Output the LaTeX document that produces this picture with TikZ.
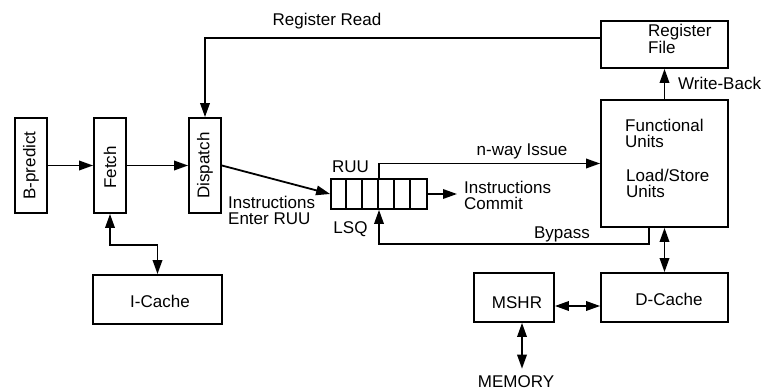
\documentclass[tikz,border=0pt]{standalone}
\usepackage{fontspec}
\setmainfont{Liberation Sans}
\usetikzlibrary{arrows.meta}
\begin{document}
\begin{tikzpicture}[x=1pt,y=-1pt,
  font=\fontsize{17}{16}\selectfont,
  box/.style={draw, line width=1.8pt, inner sep=0pt},
  txt/.style={inner sep=0pt, text height=12.2pt, text depth=0pt},
  mtxt/.style={inner sep=0pt, align=left, anchor=north west},
  vtxt/.style={inner sep=0pt, rotate=90},
  conn/.style={line width=1.8pt},
  tip/.tip={Triangle[length=14pt,width=9.5pt]},
  arr/.style={conn, -tip},
  dbl/.style={conn, tip-tip}
]
\useasboundingbox (0,0) rectangle (770,390);

% boxes
\node[box, minimum width=32pt, minimum height=95pt] (bp) at (31,165.5) {};
\node[box, minimum width=32pt, minimum height=95pt] (fetch) at (110,165.5) {};
\node[box, minimum width=32pt, minimum height=95pt] (disp) at (205,165.5) {};
\node[box, minimum width=129pt, minimum height=49pt] (icache) at (157.5,299.5) {};
\node[box, minimum width=127pt, minimum height=47pt] (rf) at (664.5,44.5) {};
\node[box, minimum width=127pt, minimum height=127pt] (fu) at (664.5,163.5) {};
\node[box, minimum width=127pt, minimum height=49pt] (dc) at (664.5,297.5) {};
\node[box, minimum width=80pt, minimum height=49pt] (mshr) at (514,297.5) {};
\node[box, minimum width=96pt, minimum height=30pt] (ruu) at (379,194) {};
\foreach \i in {1,...,5}
  \draw[line width=1.8pt] ([xshift=16*\i pt]ruu.north west) -- ([xshift=16*\i pt]ruu.south west);

% texts in boxes
\node[vtxt] (bptxt) at (bp.center) {B-predict};
\node[vtxt] (fetchtxt) at ([yshift=-2pt]fetch.center) {Fetch};
\node[vtxt] (disptxt) at (disp.center) {Dispatch};
\node[txt] (ictxt) at (160,301.5) {I-Cache};
\node[mtxt, font=\fontsize{17}{16.5}\selectfont] (rftxt) at (648,24) {Register\\File};
\node[mtxt] (futxt) at (625,119) {Functional\\Units};
\node[mtxt] (lstxt) at (626,169) {Load/Store\\Units};
\node[txt] (dctxt) at (669,299.5) {D-Cache};
\node[txt] (mshrtxt) at (517,302.5) {MSHR};

% free labels
\node[txt] (rrlbl) at (327,19.5) {Register Read};
\node[txt, anchor=west] (wblbl) at (678,83) {Write-Back};
\node[txt] (nwlbl) at (522,149) {n-way Issue};
\node[txt] (bylbl) at (562,232) {Bypass};
\node[txt] (ruulbl) at (350.5,166.5) {RUU};
\node[txt] (lsqlbl) at (350.5,227.5) {LSQ};
\node[mtxt] (enterlbl) at (228,196) {Instructions\\Enter RUU};
\node[mtxt] (commitlbl) at (464,181) {Instructions\\Commit};
\node[txt] (mem) at (516,381) {MEMORY};
\coordinate (commit) at (457,194);

% connectors
\draw[arr] (bp) -- (fetch);
\draw[arr] (fetch) -- (disp);
\draw[dbl] (fetch.south) -- ++(0,31) -| (icache.north);
\draw[arr] ([yshift=6.5pt]rf.west) -| (disp.north);
\draw[arr] (fu.north) -- (rf.south);
\draw[arr] (disp.east) -- (ruu.west);
\draw[arr] (ruu.north) |- (fu.west);
\draw[arr] ([xshift=-15.5pt]fu.south) -- ++(0,16) -| (ruu.south);
\draw[arr] (ruu.east) -- (commit);
\draw[dbl] (fu.south) -- (dc.north);
\draw[dbl] ([yshift=-8.5pt]mshr.east) -- ([yshift=-8.5pt]dc.west);
\draw[dbl] ([xshift=8pt]mshr.south) -- ([xshift=8pt,yshift=6pt]mem.north -| mshr.south);
\end{tikzpicture}
\end{document}
